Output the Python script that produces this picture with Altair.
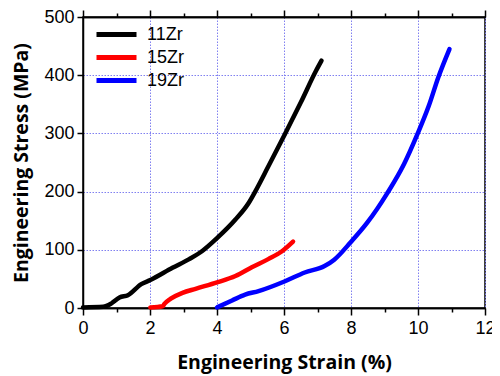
import altair as alt
import pandas as pd

series_names = ["11Zr", "15Zr", "19Zr"]
series_colors = ["#000000", "#ff0000", "#0000ff"]

s11_strain = [0, 0.6, 0.85, 1.09, 1.34, 1.74, 2.01, 2.67, 3.17, 3.56, 4.0, 4.55, 4.94, 5.14, 5.53, 6.03, 6.5, 6.96, 7.12]
s11_stress = [1, 2, 8, 18, 22, 41, 48, 69, 84, 98, 120, 152, 180, 200, 243, 299, 353, 408, 425]

s15_strain = [2.01, 2.38, 2.43, 2.62, 2.97, 3.36, 4.0, 4.55, 5.04, 5.53, 5.93, 6.27]
s15_stress = [1, 3, 7, 16, 26, 33, 44, 55, 70, 84, 97, 114]

s19_strain = [4.0, 4.45, 4.84, 5.24, 6.03, 6.62, 7.21, 7.5, 7.99, 8.49, 9.08, 9.58, 9.97, 10.32, 10.61, 10.94]
s19_stress = [1, 13, 23, 29, 46, 61, 72, 83, 113, 147, 197, 247, 297, 347, 397, 445]

x_major = [0, 2, 4, 6, 8, 10, 12]
x_minor = [1, 3, 5, 7, 9, 11]
y_major = [0, 100, 200, 300, 400, 500]

rows = []
for name, xs, ys in zip(series_names, [s11_strain, s15_strain, s19_strain], [s11_stress, s15_stress, s19_stress]):
    for i, (a, b) in enumerate(zip(xs, ys)):
        rows.append({"series": name, "strain": a, "stress": b, "order": i})
df = pd.DataFrame(rows)

grid_color = "#8080f0"
label_font = "Liberation Sans"
title_font = "Open Sans"

x_scale = alt.Scale(domain=[0, 12], nice=False, zero=False)
y_scale = alt.Scale(domain=[0, 500], nice=False)

common = dict(domainColor="black", domainWidth=1.5, tickColor="black", tickWidth=1.5)
grid_style = dict(grid=True, gridColor=grid_color, gridDash=[1.5, 1.5], gridWidth=1, gridOpacity=1)

x_axis = alt.Axis(
    values=x_major, tickSize=7,
    labelFont=label_font, labelFontSize=18, labelColor="black", labelPadding=4,
    title="Engineering Strain (%)", titleFont=title_font, titleFontSize=19.5,
    titleFontWeight="bold", titleColor="black", titlePadding=16,
    labelFlush=False, **grid_style, **common,
)
y_axis = alt.Axis(
    values=y_major, tickSize=6,
    labelFont=label_font, labelFontSize=18, labelColor="black", labelPadding=3,
    title="Engineering Stress (MPa)", titleFont=title_font, titleFontSize=19.5,
    titleFontWeight="bold", titleColor="black", titlePadding=12,
    labelFlush=False, **grid_style, **common,
)

lines = alt.Chart(df).mark_line(strokeWidth=4.5, strokeCap="round", strokeJoin="round", interpolate="monotone").encode(
    x=alt.X("strain:Q", scale=x_scale, axis=x_axis),
    y=alt.Y("stress:Q", scale=y_scale, axis=y_axis),
    order="order:Q",
    color=alt.Color(
        "series:N",
        scale=alt.Scale(domain=series_names, range=series_colors),
        legend=alt.Legend(
            title=None, orient="none", legendX=21, legendY=5,
            symbolType="M-2,0H2", symbolSize=400, symbolStrokeWidth=5,
            labelFont=label_font, labelFontSize=18, labelColor="black",
            rowPadding=-1, labelOffset=18,
        ),
    ),
)


def tick_layer(orient, values, size):
    return alt.Chart(pd.DataFrame({"t": values})).mark_point(opacity=0).encode(
        x=alt.X("t:Q", scale=x_scale, axis=alt.Axis(
            orient=orient, values=values, labels=False, title=None, grid=False,
            tickSize=size, domain=True, **common)),
    )


minor_bottom = tick_layer("bottom", x_minor, 4)
major_top = tick_layer("top", x_major, 7)
minor_top = tick_layer("top", x_minor, 4)

chart = alt.layer(lines, minor_bottom, major_top, minor_top).resolve_axis(
    x="independent"
).properties(
    width=402, height=291,
    autosize=alt.AutoSizeParams(type="none"),
    padding={"left": 75, "top": 9, "right": 7, "bottom": 68},
).configure_view(stroke="black", strokeWidth=1.5)

chart.save("out.html", embed_options={"renderer": "svg", "actions": False})
